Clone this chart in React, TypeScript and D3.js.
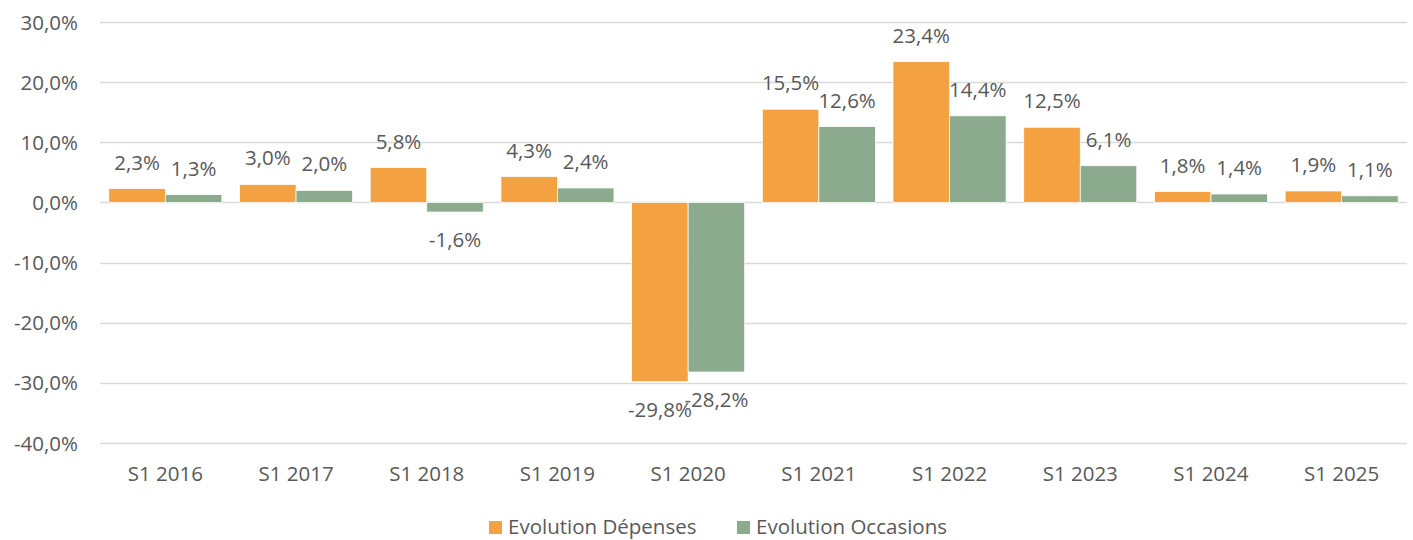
import React from "react";
import * as d3 from "d3";

const categories = ["S1 2016", "S1 2017", "S1 2018", "S1 2019", "S1 2020", "S1 2021", "S1 2022", "S1 2023", "S1 2024", "S1 2025"];
const depenses = [2.3, 3.0, 5.8, 4.3, -29.8, 15.5, 23.4, 12.5, 1.8, 1.9];
const occasions = [1.3, 2.0, -1.6, 2.4, -28.2, 12.6, 14.4, 6.1, 1.4, 1.1];
const seriesNames = ["Evolution Dépenses", "Evolution Occasions"];
const yTicks = [-40, -30, -20, -10, 0, 10, 20, 30];

const colors = ["#F4A142", "#8BAA8E"];
const textColor = "#595959";
const font = "'Open Sans', sans-serif";

const W = 1413;
const H = 540;

const fmt = (v: number) => v.toFixed(1).replace(".", ",") + "%";

export default function App() {
  const x = d3.scaleBand<string>().domain(categories).range([100, 1407]).paddingInner(0.135).paddingOuter(0.0675);
  const xs = d3.scaleBand<number>().domain([0, 1]).range([0, x.bandwidth()]);
  const y = d3.scaleLinear().domain([-40, 30]).range([443, 22]);
  const series = [depenses, occasions];

  return (
    <svg width={W} height={H} style={{ position: "absolute", left: 0, top: 0 }} fontFamily={font}>
      <rect width={W} height={H} fill="#fff" />
      {yTicks.map((t) => (
        <g key={t}>
          <line x1={100} x2={1407} y1={Math.round(y(t)) + 0.5} y2={Math.round(y(t)) + 0.5} stroke="#D9D9D9" strokeWidth={1.5} />
          <text x={78} y={y(t) + 7.5} textAnchor="end" fontSize={20.5} fill={textColor}>
            {fmt(t)}
          </text>
        </g>
      ))}
      {series.map((vals, si) =>
        vals.map((v, i) => {
          const bx = (x(categories[i]) ?? 0) + (xs(si) ?? 0);
          const y0 = y(Math.max(0, v));
          const h = Math.abs(y(v) - y(0));
          return (
            <rect key={`b${si}-${i}`} x={bx} y={y0} width={xs.bandwidth()} height={h} fill={colors[si]} stroke="#fff" strokeWidth={0.75} />
          );
        })
      )}
      {series.map((vals, si) =>
        vals.map((v, i) => {
          const cx = (x(categories[i]) ?? 0) + (xs(si) ?? 0) + xs.bandwidth() / 2;
          const ly = v >= 0 ? y(v) - 19 : y(v) + 35;
          return (
            <text key={`l${si}-${i}`} x={cx} y={ly} textAnchor="middle" fontSize={20.5} fill={textColor}>
              {fmt(v)}
            </text>
          );
        })
      )}
      {categories.map((c) => (
        <text key={c} x={(x(c) ?? 0) + x.bandwidth() / 2} y={481} textAnchor="middle" fontSize={20.5} fill={textColor}>
          {c}
        </text>
      ))}
      {seriesNames.map((n, i) => {
        const lx = i === 0 ? 489 : 737;
        return (
          <g key={n}>
            <rect x={lx} y={521} width={13} height={13} fill={colors[i]} />
            <text x={lx + 19} y={534} fontSize={20.5} fill={textColor}>
              {n}
            </text>
          </g>
        );
      })}
    </svg>
  );
}
